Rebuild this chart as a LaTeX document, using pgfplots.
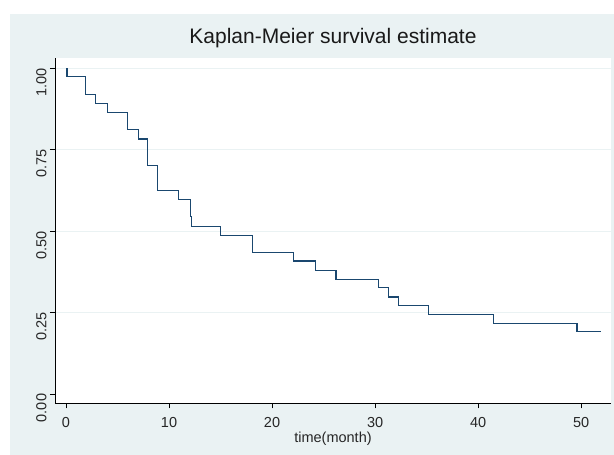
\documentclass[border=0pt]{standalone}
\usepackage{pgfplots}
\pgfplotsset{compat=1.18}
\usepackage{fontspec}
\setmainfont{Liberation Sans}
\definecolor{statabg}{RGB}{234,242,243}
\definecolor{statanavy}{RGB}{26,71,111}

\begin{document}
\begin{tikzpicture}[x=1pt,y=1pt]
\path[use as bounding box] (0,0) rectangle (614,455);
\fill[statabg] (10,0) rectangle (614,441);
\begin{axis}[%
at={(55pt,51.7pt)}, anchor=south west,
scale only axis,
width=556pt, height=345.6pt,
xmin=-1.07, xmax=52.9,
ymin=-0.0286, ymax=1.0325,
axis x line*=bottom, axis y line*=left,
axis line style={black, line width=1pt},
axis background/.style={fill=white},
tick align=outside,
major tick length=5pt,
tick style={black, line width=0.8pt},
xtick={0,10,...,50},
ytick={0.25,0.5,0.75,1},
extra y ticks={0},
extra y tick style={grid=none},
ymajorgrids,
grid style={statabg, line width=1pt},
/pgf/number format/assume math mode=true,
ticklabel style={font=\fontsize{14.5}{16}\selectfont, text=black!85},
y tick label style={rotate=90, anchor=south, xshift=-14pt,
  /pgf/number format/.cd, fixed, fixed zerofill, precision=2},
x tick label style={yshift=-6pt},
xlabel={time(month)},
xlabel style={font=\fontsize{14.5}{16}\selectfont, text=black!85, yshift=3pt},
title={Kaplan-Meier survival estimate},
title style={font=\fontsize{21}{24}\selectfont, text=black!90, at={(0.5,1)}, anchor=base, yshift=8pt},
]
\addplot [const plot, color=statanavy, line width=1.2pt] coordinates {
(0,1) (0.1,0.974) (1.9,0.919) (2.9,0.893) (4.0,0.865) (6.0,0.811)
(7.0,0.783) (7.9,0.702) (8.9,0.624) (10.9,0.596) (12.1,0.544)
(12.2,0.515) (15.0,0.486) (18.1,0.434) (22.1,0.408) (24.2,0.380)
(26.2,0.351) (30.3,0.326) (31.3,0.298) (32.3,0.272) (35.2,0.245)
(41.5,0.217) (49.6,0.193) (51.9,0.193)};
\end{axis}
\end{tikzpicture}
\end{document}
